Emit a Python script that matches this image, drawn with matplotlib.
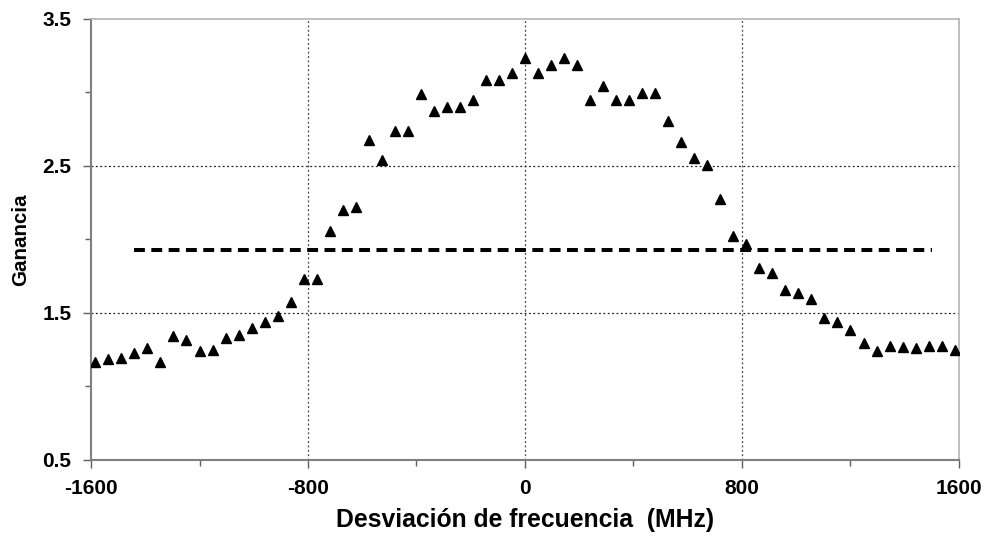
import numpy as np
import matplotlib
matplotlib.use("Agg")
import matplotlib.pyplot as plt

plt.rcParams['font.family'] = ['Liberation Sans', 'DejaVu Sans']

# frequency offset (MHz), 48 MHz steps
freq = np.arange(-1584, 1585, 48)
gain = [1.165, 1.184, 1.196, 1.230, 1.260, 1.165, 1.343, 1.313, 1.240, 1.250,
        1.330, 1.350, 1.400, 1.437, 1.478, 1.575, 1.731, 1.731, 2.060, 2.200,
        2.220, 2.678, 2.539, 2.736, 2.736, 2.992, 2.876, 2.903, 2.903, 2.950,
        3.088, 3.088, 3.135, 3.236, 3.135, 3.186, 3.236, 3.186, 2.947, 3.043,
        2.947, 2.947, 2.995, 2.995, 2.806, 2.663, 2.552, 2.509, 2.278, 2.022,
        1.967, 1.808, 1.770, 1.654, 1.636, 1.595, 1.464, 1.437, 1.384, 1.294,
        1.244, 1.277, 1.269, 1.264, 1.273, 1.278, 1.246]
ref_x = [-1440, 1500]
ref_y = [1.926, 1.926]

x_major = [-1600, -800, 0, 800, 1600]
x_minor = [-1200, -400, 400, 1200]
y_major = [0.5, 1.5, 2.5, 3.5]
y_minor = [1.0, 2.0, 3.0]

fig = plt.figure(figsize=(9.86, 5.38), dpi=100)
ax = fig.add_axes([0.0923, 0.145, 0.8803, 0.8197])

ax.set_xlim(-1600, 1600)
ax.set_ylim(0.5, 3.5)
ax.set_xticks(x_major)
ax.set_xticks(x_minor, minor=True)
ax.set_yticks(y_major)
ax.set_yticks(y_minor, minor=True)
ax.set_xticklabels([str(v) for v in x_major], fontweight='bold')
ax.set_yticklabels([f"{v:.1f}" for v in y_major], fontweight='bold')

# dotted grid only on the interior major positions
for gx in x_major[1:-1]:
    ax.axvline(gx, color='#444444', ls=(0, (1.5, 2.0)), lw=0.9, zorder=1)
for gy in y_major[1:-1]:
    ax.axhline(gy, color='#222222', ls=(0, (1.5, 2.0)), lw=0.9, zorder=1)

ax.plot(ref_x, ref_y, color='black', lw=2.9, dashes=(2.7, 1.6), zorder=2)
ax.plot(freq, gain, ls='none', marker='^', ms=7.6, color='black', zorder=3)

for side in ('left', 'bottom'):
    ax.spines[side].set_color('#808080')
    ax.spines[side].set_linewidth(1.5)
for side in ('top', 'right'):
    ax.spines[side].set_color('#b4b4b4')
    ax.spines[side].set_linewidth(1.2)

ax.tick_params(which='major', direction='out', length=6, width=1, color='#606060',
               labelsize=15, pad=8)
ax.tick_params(which='minor', direction='out', length=4, width=1, color='#606060')

ax.set_xlabel('Desviación de frecuencia  (MHz)', fontsize=17.8, fontweight='bold', labelpad=7)
ax.set_ylabel('Ganancia', fontsize=14.8, fontweight='bold', labelpad=9)

fig.savefig('out.png', dpi=100)
